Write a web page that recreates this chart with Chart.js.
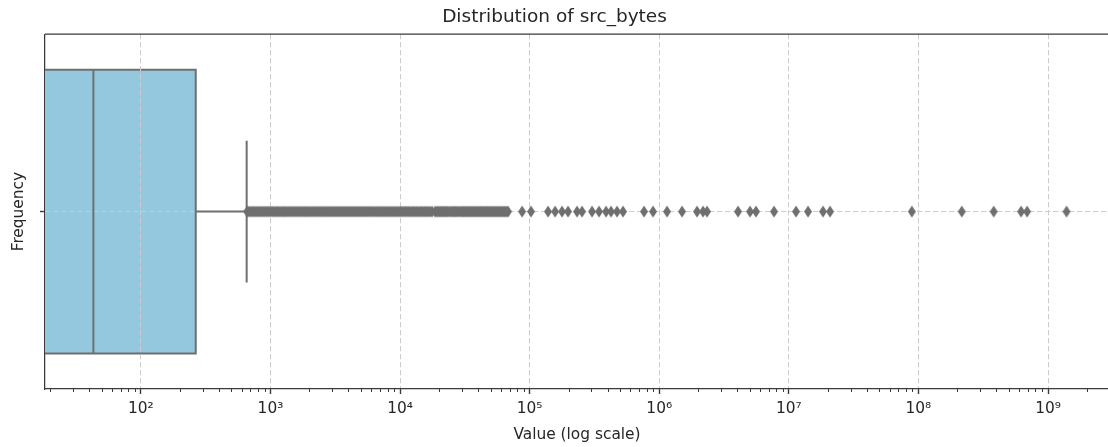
<!DOCTYPE html>
<html lang="en">
<head>
    <meta charset="UTF-8">
    <title>Distribution of src_bytes</title>
    <style>
        html, body { margin: 0; padding: 0; overflow: hidden; background: #fff; }
    </style>
</head>
<body>
    <canvas id="box-chart" width="1150" height="447"></canvas>

    <script src="https://cdn.jsdelivr.net/npm/chart.js"></script>
    <script>
        // Box statistics: Q1 (off the left edge), median, Q3
        const quartiles = [1, 43, 265];
        const whiskerHigh = 655;

        // Outliers beyond the upper whisker (values in bytes)
        const outliers = [
            660, 672, 696, 721, 747, 774, 802, 831, 861, 892, 925, 958, 993,
            1029, 1066, 1105, 1144, 1186, 1229, 1273, 1319, 1367, 1417, 1468, 1521,
            1576, 1633, 1692, 1753, 1817, 1882, 1951, 2021, 2094, 2170, 2249, 2330,
            2414, 2501, 2592, 2685, 2782, 2883, 2987, 3095, 3207, 3323, 3443, 3568,
            3697, 3830, 3969, 4113, 4261, 4416, 4575, 4741, 4912, 5090, 5274, 5465,
            5662, 5867, 6081, 6301, 6529, 6765, 7009, 7263, 7525, 7798, 8080, 8372,
            8675, 8989, 9314, 9652, 10000, 10360, 10740, 11130, 11530, 11950, 12380,
            12820, 13290, 13770, 14270, 14780, 15320, 15870, 16440, 17040, 17660,
            18630, 19130, 19650, 20180, 20730, 21280, 21850, 22440, 23050, 23700,
            24400, 25190, 25870, 26570, 27300, 28000, 29040, 29830, 30630, 31460,
            32310, 33180, 34070, 34990, 35940, 36910, 37910, 38940, 39990, 41070,
            42170, 43310, 44480, 45680, 46920, 48190, 49490, 50820, 52190, 53600,
            55050, 56540, 58060, 59630, 61240, 62890, 64590, 66340, 68120,
            87400, 102500, 138700, 157100, 177800, 197800, 232100, 253700,
            303000, 343100, 388600, 424800, 472500, 525700, 763300, 896000,
            1149000, 1500000, 1957000, 2178000, 2338000, 4055000, 5018000, 5580000,
            7688000, 11370000, 14060000, 18360000, 20800000,
            89000000, 216000000, 381000000, 620000000, 690000000, 1390000000
        ];

        // Axis
        const xRange = [18.2, 2.956e9];
        const tickExponents = [2, 3, 4, 5, 6, 7, 8, 9];
        const tickLabels = ['10²', '10³', '10⁴', '10⁵', '10⁶', '10⁷', '10⁸', '10⁹'];

        const boxColor = '#94c8de';
        const lineColor = '#6f6f6f';
        const spineColor = '#3a3a3a';
        const gridColor = '#cdcdcd';
        const textColor = '#262626';
        const fontFamily = "'DejaVu Sans', sans-serif";

        // thin diamond marker, like matplotlib 'd'
        function diamondMarker() {
            const c = document.createElement('canvas');
            c.width = 10;
            c.height = 13;
            const g = c.getContext('2d');
            g.fillStyle = lineColor;
            g.beginPath();
            g.moveTo(5, 0.5);
            g.lineTo(9, 6.5);
            g.lineTo(5, 12.5);
            g.lineTo(1, 6.5);
            g.closePath();
            g.fill();
            return c;
        }

        const [q1, med, q3] = quartiles;
        const halfBox = 0.4;
        const halfCap = 0.2;

        // grid lines sit above the box but under the lines and markers
        const gridOverBox = {
            id: 'gridOverBox',
            afterDatasetDraw(chart, args) {
                if (args.index === 3) {
                    chart.scales.x.drawGrid(chart.chartArea);
                    chart.scales.y.drawGrid(chart.chartArea);
                }
            }
        };

        // top spine and short minor ticks
        const frame = {
            id: 'frame',
            afterDraw(chart) {
                const {ctx, chartArea} = chart;
                const x = chart.scales.x;
                ctx.save();
                ctx.strokeStyle = spineColor;
                ctx.lineWidth = 1.25;
                ctx.beginPath();
                ctx.moveTo(chartArea.left, chartArea.top);
                ctx.lineTo(chartArea.right, chartArea.top);
                ctx.stroke();
                ctx.lineWidth = 1;
                ctx.beginPath();
                x.ticks.forEach(t => {
                    if (t.major) return;
                    const px = Math.round(x.getPixelForValue(t.value)) + 0.5;
                    ctx.moveTo(px, chartArea.bottom);
                    ctx.lineTo(px, chartArea.bottom + 3);
                });
                ctx.stroke();
                ctx.restore();
            }
        };

        new Chart(document.getElementById('box-chart'), {
            type: 'scatter',
            data: {
                datasets: [
                    {
                        label: 'outliers',
                        data: outliers.map(v => ({x: v, y: 0})),
                        pointStyle: diamondMarker(),
                        pointRadius: 4,
                        order: 0
                    },
                    {
                        label: 'whisker',
                        data: [
                            {x: q3, y: 0}, {x: whiskerHigh, y: 0},
                            {x: whiskerHigh, y: halfCap}, {x: whiskerHigh, y: -halfCap}
                        ],
                        showLine: true,
                        borderColor: lineColor,
                        borderWidth: 2,
                        pointRadius: 0,
                        order: 1
                    },
                    {
                        label: 'median',
                        data: [{x: med, y: -halfBox}, {x: med, y: halfBox}],
                        showLine: true,
                        borderColor: lineColor,
                        borderWidth: 2,
                        pointRadius: 0,
                        order: 2
                    },
                    {
                        label: 'box',
                        data: [
                            {x: q1, y: -halfBox}, {x: q3, y: -halfBox},
                            {x: q3, y: halfBox}, {x: q1, y: halfBox}, {x: q1, y: -halfBox}
                        ],
                        showLine: true,
                        fill: 'shape',
                        backgroundColor: boxColor,
                        borderColor: lineColor,
                        borderWidth: 2,
                        pointRadius: 0,
                        clip: 0,
                        order: 3
                    }
                ]
            },
            options: {
                responsive: false,
                animation: false,
                events: [],
                layout: { padding: { left: 0, right: 41, top: 0, bottom: 0 } },
                plugins: {
                    legend: { display: false },
                    tooltip: { enabled: false },
                    title: {
                        display: true,
                        text: 'Distribution of src_bytes',
                        color: textColor,
                        font: { family: fontFamily, size: 18.5, weight: 'normal' },
                        padding: { top: 6, bottom: 6 }
                    }
                },
                scales: {
                    x: {
                        type: 'logarithmic',
                        min: xRange[0],
                        max: xRange[1],
                        bounds: 'data',
                        afterBuildTicks: scale => {
                            const ticks = [];
                            for (let e = 1; e <= 9; e++) {
                                for (let d = 1; d <= 9; d++) {
                                    const v = d * Math.pow(10, e);
                                    if (v >= scale.min && v <= scale.max) ticks.push({value: v, major: d === 1});
                                }
                            }
                            scale.ticks = ticks;
                        },
                        afterFit: scale => { scale.height = 58; },
                        ticks: {
                            autoSkip: false,
                            maxRotation: 0,
                            minRotation: 0,
                            padding: 6,
                            color: textColor,
                            font: { family: fontFamily, size: 15.4 },
                            callback: (value, index, ticks) => {
                                const i = tickExponents.indexOf(Math.round(Math.log10(value)));
                                return ticks[index].major && i >= 0 ? tickLabels[i] : '';
                            }
                        },
                        grid: {
                            color: ctx => (ctx.tick && ctx.tick.major ? gridColor : 'transparent'),
                            lineWidth: 1,
                            tickLength: 5,
                            tickWidth: 1.2,
                            tickColor: ctx => (ctx.tick && ctx.tick.major ? spineColor : 'transparent')
                        },
                        border: { display: true, color: spineColor, width: 1.25, dash: [5, 3] },
                        title: {
                            display: true,
                            text: 'Value (log scale)',
                            color: textColor,
                            font: { family: fontFamily, size: 15.4 },
                            padding: { top: 0, bottom: 3 }
                        }
                    },
                    y: {
                        type: 'linear',
                        min: -0.5,
                        max: 0.5,
                        afterBuildTicks: scale => { scale.ticks = [{value: 0}]; },
                        afterFit: scale => { scale.width = 45; },
                        ticks: { display: false },
                        grid: {
                            color: gridColor,
                            lineWidth: 1,
                            tickLength: 5,
                            tickWidth: 1.2,
                            tickColor: spineColor
                        },
                        border: { display: true, color: spineColor, width: 1.25, dash: [5, 3] },
                        title: {
                            display: true,
                            text: 'Frequency',
                            color: textColor,
                            font: { family: fontFamily, size: 15.4 },
                            padding: { top: 10, bottom: 0 }
                        }
                    }
                }
            },
            plugins: [gridOverBox, frame]
        });
    </script>
</body>
</html>
